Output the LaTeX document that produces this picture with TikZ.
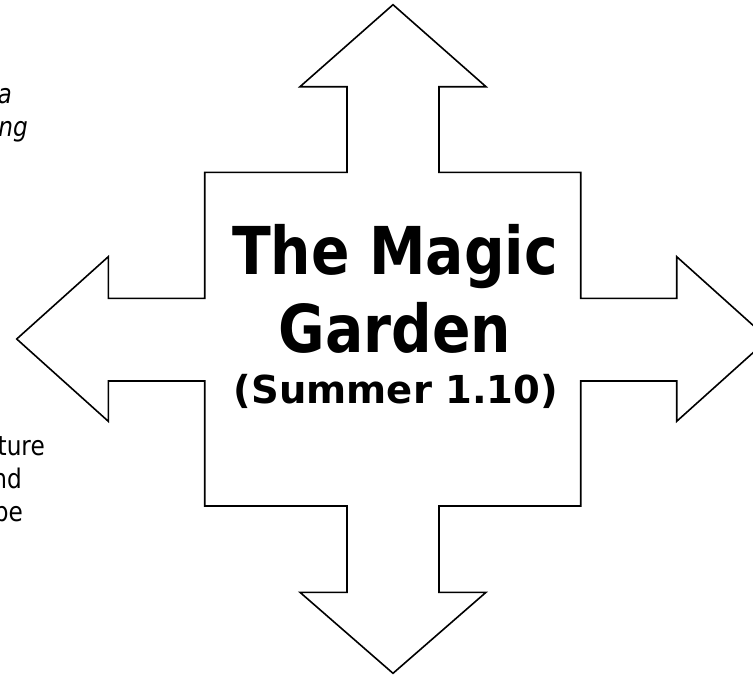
\documentclass[tikz,border=0pt]{standalone}
\usepackage{fontspec}
\newfontfamily\titlefont[FakeStretch=0.86]{DejaVu Sans}
\newfontfamily\subfont{DejaVu Sans}
\newfontfamily\notefont[FakeStretch=0.86]{DejaVu Sans}
\begin{document}
\begin{tikzpicture}[x=1pt,y=-1pt,
  outline/.style={draw=black,line width=1.6pt,line join=miter,fill=white},
  bigtitle/.style={font=\titlefont\bfseries\fontsize{66}{72}\selectfont,inner sep=0pt,anchor=base},
  subtitle/.style={font=\subfont\bfseries\fontsize{38.5}{44}\selectfont,inner sep=0pt,anchor=base},
  notetext/.style={font=\notefont\fontsize{27}{32}\selectfont,inner sep=0pt,anchor=base east},
  noteital/.style={font=\notefont\itshape\fontsize{27}{32}\selectfont,inner sep=0pt,anchor=base east}]
\useasboundingbox (0,0) rectangle (753,675);
\clip (0,0) rectangle (753,675);
% cross-shaped outline of four arrows around a box
\draw[outline] (393,4.7) -- (486,86.7) -- (439,86.7) -- (439,172.3) -- (580.7,172.3)
  -- (580.7,298.3) -- (676.7,298.3) -- (676.7,256.7) -- (768.3,339) -- (676.7,421.3)
  -- (676.7,381) -- (580.7,381) -- (580.7,506) -- (439,506) -- (439,592.3)
  -- (486,592.3) -- (393,673.3) -- (300,592.3) -- (347,592.3) -- (347,506)
  -- (204.7,506) -- (204.7,381) -- (108.3,381) -- (108.3,421.3) -- (16.7,339)
  -- (108.3,256.7) -- (108.3,298.3) -- (204.7,298.3) -- (204.7,172.3) -- (347,172.3)
  -- (347,86.7) -- (300,86.7) -- cycle;
% title
\node[bigtitle] (t1) at (395,274) {The Magic};
\node[bigtitle] (t2) at (395,352) {Garden};
\node[subtitle] (t3) at (396,403) {(Summer 1.10)};
% cut-off notes at the left edge
\node[noteital] (n1) at (12,103) {a};
\node[noteital] (n2) at (28,136) {ng};
\node[notetext] (n3) at (45,455) {ture};
\node[notetext] (n4) at (22,488) {nd};
\node[notetext] (n5) at (23,521) {pe};
\end{tikzpicture}
\end{document}
